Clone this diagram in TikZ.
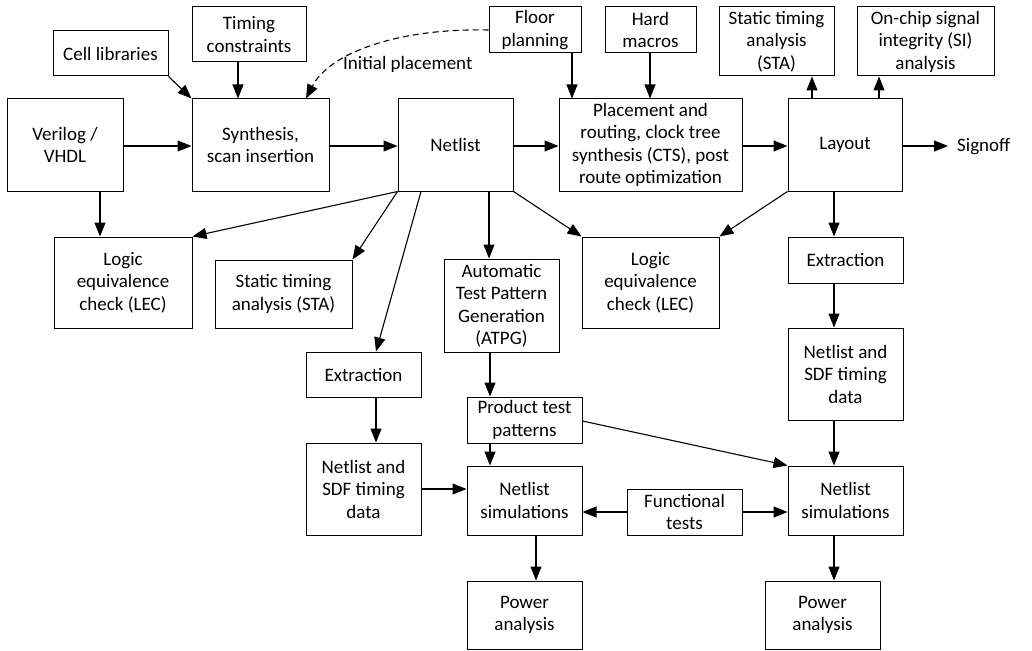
\documentclass[tikz,border=0pt]{standalone}
\usepackage{fontspec}
\setmainfont{Carlito}
\usetikzlibrary{arrows.meta}
\begin{document}
\begin{tikzpicture}[x=1pt,y=-1pt,
  box/.style={draw=black, line width=1pt, align=center, inner sep=1pt,
    font=\fontsize{19}{22.5}\selectfont},
  arr/.style={line width=1.1pt, -{Triangle[length=14pt,width=11pt]}},
  lbl/.style={inner sep=0pt, font=\fontsize{19}{22.5}\selectfont}]
\useasboundingbox (0,0) rectangle (1032,650);
% top row
\node[box, minimum width=115, minimum height=45] (cell) at (110.5,53.5) {Cell libraries};
\node[box, minimum width=114, minimum height=55] (timing) at (249,34.5) {Timing\\constraints};
\node[box, minimum width=92, minimum height=46] (floor) at (535,30) {Floor\\planning};
\node[box, minimum width=91, minimum height=46] (hard) at (650.5,30) {Hard\\macros};
\node[box, minimum width=115, minimum height=69] (stat) at (776.5,41.5) {Static timing\\analysis\\(STA)};
\node[box, minimum width=137, minimum height=69] (si) at (925.5,41.5) {On-chip signal\\integrity (SI)\\analysis};
% main row
\node[box, minimum width=116, minimum height=92] (verilog) at (65,145) {Verilog /\\VHDL};
\node[box, minimum width=137, minimum height=92] (synth) at (260.5,145) {Synthesis,\\scan insertion};
\node[box, minimum width=115, minimum height=92] (netlist) at (455.5,145) {Netlist};
\node[box, minimum width=183, minimum height=92] (place) at (650.5,145) {Placement and\\routing, clock tree\\synthesis (CTS), post\\route optimization};
\node[box, minimum width=114, minimum height=92] (layout) at (845,145) {Layout};
\node[lbl, anchor=west] (signoff) at (957,147) {Signoff};
\coordinate (signoffin) at (948,146);
% second level
\node[box, minimum width=138, minimum height=91] (lec1) at (123,282.5) {Logic\\equivalence\\check (LEC)};
\node[box, minimum width=137, minimum height=68] (stamid) at (283.5,294) {Static timing\\analysis (STA)};
\node[box, minimum width=115, minimum height=93] (atpg) at (501.5,305.5) {Automatic\\Test Pattern\\Generation\\(ATPG)};
\node[box, minimum width=137, minimum height=91] (lec2) at (650.5,282.5) {Logic\\equivalence\\check (LEC)};
\node[box, minimum width=115, minimum height=46] (extr) at (845.5,260) {Extraction};
\node[box, minimum width=115, minimum height=92] (sdfr) at (845.5,374) {Netlist and\\SDF timing\\data};
\node[box, minimum width=115, minimum height=45] (extl) at (363.5,374.5) {Extraction};
\node[box, minimum width=115, minimum height=46] (prod) at (524.5,420) {Product test\\patterns};
\node[box, minimum width=115, minimum height=92] (sdfl) at (363.5,489) {Netlist and\\SDF timing\\data};
\node[box, minimum width=115, minimum height=69] (siml) at (524.5,500.5) {Netlist\\simulations};
\node[box, minimum width=115, minimum height=46] (func) at (684.5,512) {Functional\\tests};
\node[box, minimum width=115, minimum height=69] (simr) at (845.5,500.5) {Netlist\\simulations};
\node[box, minimum width=115, minimum height=68] (powl) at (524.5,615) {Power\\analysis};
\node[box, minimum width=115, minimum height=68] (powr) at (822.5,615) {Power\\analysis};
% connectors top
\draw[arr] (cell.south east) -- (synth.north west);
\draw[arr] (timing.south -| 238,0) -- (synth.north -| 238,0);
\draw[arr] (floor.south -| 572,0) -- (place.north -| 572,0);
\draw[arr] (hard.south -| 650,0) -- (place.north -| 650,0);
\draw[arr] (layout.north -| 812,0) -- (stat.south -| 812,0);
\draw[arr] (layout.north -| 879,0) -- (si.south -| 879,0);
\draw[arr, dashed, dash pattern=on 6pt off 4pt] (floor.west) .. controls (400,28) and (330,52) .. (synth.north -| 306,0);
\node[lbl, anchor=west] (initpl) at (343,64) {Initial placement};
% main row
\draw[arr] (verilog.east |- 0,146) -- (synth.west |- 0,146);
\draw[arr] (synth.east |- 0,146) -- (netlist.west |- 0,146);
\draw[arr] (netlist.east |- 0,146) -- (place.west |- 0,146);
\draw[arr] (place.east |- 0,146) -- (layout.west |- 0,146);
\draw[arr] (layout.east |- 0,146) -- (signoffin);
% from verilog / netlist / layout
\draw[arr] (verilog.south -| 100,0) -- (lec1.north -| 100,0);
\draw[arr] (netlist.south west) -- (lec1.north east);
\draw[arr] (netlist.south west) -- (stamid.north east);
\draw[arr] (netlist.south -| 421,0) -- (extl.north -| 376,0);
\draw[arr] (netlist.south -| 489,0) -- (atpg.north -| 489,0);
\draw[arr] (netlist.south east) -- (lec2.north west);
\draw[arr] (layout.south west) -- (lec2.north east);
\draw[arr] (layout.south -| 834,0) -- (extr.north -| 834,0);
% right column
\draw[arr] (extr.south -| 834,0) -- (sdfr.north -| 834,0);
\draw[arr] (sdfr.south -| 834,0) -- (simr.north -| 834,0);
\draw[arr] (simr.south -| 834,0) -- (powr.north -| 834,0);
% middle
\draw[arr] (atpg.south -| 490,0) -- (prod.north -| 490,0);
\draw[arr] (prod.south -| 490,0) -- (siml.north -| 490,0);
\draw[arr] (prod.east |- 0,421) -- (simr.north west);
\draw[arr] (extl.south -| 376,0) -- (sdfl.north -| 376,0);
\draw[arr] (sdfl.east |- 0,489) -- (siml.west |- 0,489);
\draw[arr] (func.west |- 0,512) -- (siml.east |- 0,512);
\draw[arr] (func.east |- 0,512) -- (simr.west |- 0,512);
\draw[arr] (siml.south -| 536,0) -- (powl.north -| 536,0);
\end{tikzpicture}
\end{document}
